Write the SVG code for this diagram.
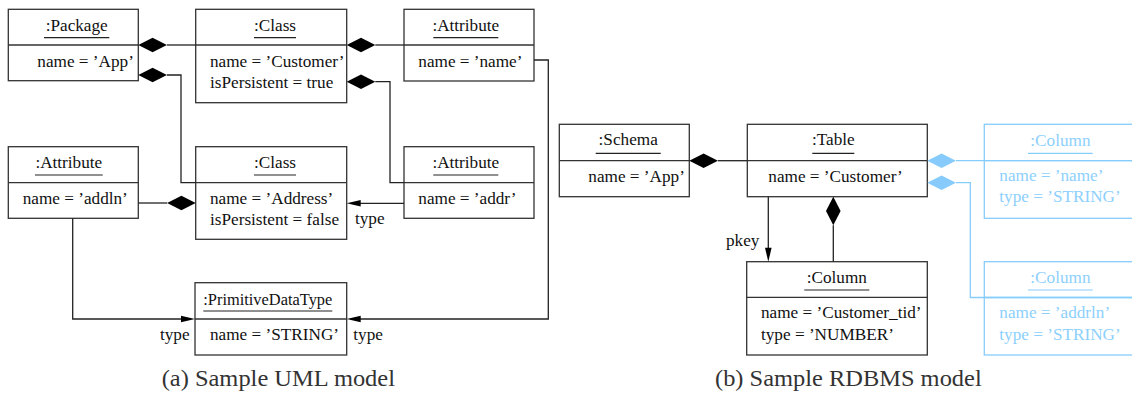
<svg xmlns="http://www.w3.org/2000/svg" xmlns:xlink="http://www.w3.org/1999/xlink" width="1132" height="394" viewBox="0 0 1132 394">
  <style>
    .box { fill: #fff; stroke: #333; stroke-width: 1.3; }
    .sep { stroke: #333; stroke-width: 1.3; }
    .ul { stroke: #222; stroke-width: 1.2; }
    .t { font-family: "Liberation Serif", "Times New Roman", serif; font-size: 17.2px; fill: #111; }
    .h { text-anchor: middle; }
    .edge { fill: none; stroke: #222; stroke-width: 1.3; }
    .cap { font-family: "Liberation Serif", serif; font-size: 23px; fill: #333; }
    .blue .box { stroke: #87cdfc; }
    .blue .sep, .blue .ul { stroke: #87cdfc; }
    .blue .t { fill: #8dd0fd; }
    .bedge { fill: none; stroke: #87cdfc; stroke-width: 1.3; }
  </style>
  <defs>
    <!-- composition diamond, starting at the origin and pointing right -->
    <path id="dia" d="M0,0 L14.3,-7.3 L28.6,0 L14.3,7.3 Z"/>
    <!-- navigable end: filled triangle with its tip at the origin, pointing left -->
    <path id="arr" d="M0,0 L14,-3.3 L14,3.3 Z"/>
  </defs>

  <rect width="1132" height="394" fill="#fff"/>

  <!-- ===== (a) UML model ===== -->
  <g id="package">
    <rect class="box" x="8.3" y="9.3" width="130" height="71.4"/>
    <line class="sep" x1="8.3" y1="45" x2="138.3" y2="45"/>
    <text class="t h" x="76.7" y="30.7">:Package</text>
    <line class="ul" x1="44" y1="37.7" x2="109.3" y2="37.7"/>
    <text class="t" x="37.3" y="66.7">name = ’App’</text>
  </g>

  <g id="class-customer">
    <rect class="box" x="195.7" y="9.3" width="151" height="93.4"/>
    <line class="sep" x1="195.7" y1="45" x2="346.7" y2="45"/>
    <text class="t h" x="275" y="30.7">:Class</text>
    <line class="ul" x1="254" y1="37.7" x2="296" y2="37.7"/>
    <text class="t" x="210" y="66.7">name = ’Customer’</text>
    <text class="t" x="210" y="88.3">isPersistent = true</text>
  </g>

  <g id="attribute-name">
    <rect class="box" x="404" y="9.3" width="130" height="71.7"/>
    <line class="sep" x1="404" y1="45" x2="534" y2="45"/>
    <text class="t h" x="465.8" y="30.7">:Attribute</text>
    <line class="ul" x1="433.3" y1="37.7" x2="498.3" y2="37.7"/>
    <text class="t" x="418.3" y="66.7">name = ’name’</text>
  </g>

  <g id="attribute-addln">
    <rect class="box" x="8.3" y="146.7" width="130" height="71.6"/>
    <line class="sep" x1="8.3" y1="182.7" x2="138.3" y2="182.7"/>
    <text class="t h" x="68.8" y="167.7">:Attribute</text>
    <line class="ul" x1="35" y1="175" x2="102.7" y2="175"/>
    <text class="t" x="22.7" y="203.5">name = ’addln’</text>
  </g>

  <g id="class-address">
    <rect class="box" x="195.7" y="146.7" width="151" height="92.6"/>
    <line class="sep" x1="195.7" y1="182.7" x2="346.7" y2="182.7"/>
    <text class="t h" x="275" y="167.7">:Class</text>
    <line class="ul" x1="254" y1="175" x2="296" y2="175"/>
    <text class="t" x="210" y="203.5">name = ’Address’</text>
    <text class="t" x="210" y="225">isPersistent = false</text>
  </g>

  <g id="attribute-addr">
    <rect class="box" x="404" y="146.7" width="130" height="71.6"/>
    <line class="sep" x1="404" y1="182.7" x2="534" y2="182.7"/>
    <text class="t h" x="465.8" y="167.7">:Attribute</text>
    <line class="ul" x1="433.3" y1="175" x2="498.3" y2="175"/>
    <text class="t" x="418.3" y="203.5">name = ’addr’</text>
  </g>

  <g id="primitive-string">
    <rect class="box" x="195" y="282.7" width="151.7" height="72.3"/>
    <line class="sep" x1="195" y1="319" x2="346.7" y2="319"/>
    <text class="t h" x="267.8" y="305" textLength="129" lengthAdjust="spacingAndGlyphs">:PrimitiveDataType</text>
    <line class="ul" x1="203.3" y1="311" x2="332.3" y2="311"/>
    <text class="t" x="210" y="340">name = ’STRING’</text>
  </g>

  <!-- ===== (b) RDBMS model ===== -->
  <g id="schema">
    <rect class="box" x="559.3" y="124.3" width="130" height="72.4"/>
    <line class="sep" x1="559.3" y1="160.7" x2="689.3" y2="160.7"/>
    <text class="t h" x="628.2" y="145">:Schema</text>
    <line class="ul" x1="595.7" y1="153.3" x2="660.7" y2="153.3"/>
    <text class="t" x="588.3" y="181.7">name = ’App’</text>
  </g>

  <g id="table">
    <rect class="box" x="747.3" y="124.3" width="180" height="72.4"/>
    <line class="sep" x1="747.3" y1="160.7" x2="927.3" y2="160.7"/>
    <text class="t h" x="833.3" y="145">:Table</text>
    <line class="ul" x1="812.3" y1="153.3" x2="854.3" y2="153.3"/>
    <text class="t" x="768.3" y="181.7">name = ’Customer’</text>
  </g>

  <g id="column-tid">
    <rect class="box" x="746.7" y="261.7" width="180.6" height="93.3"/>
    <line class="sep" x1="746.7" y1="297.3" x2="927.3" y2="297.3"/>
    <text class="t h" x="836.8" y="283.3">:Column</text>
    <line class="ul" x1="804.3" y1="290" x2="869.3" y2="290"/>
    <text class="t" x="761" y="318.3">name = ’Customer_tid’</text>
    <text class="t" x="761" y="340">type = ’NUMBER’</text>
  </g>

  <g id="column-name" class="blue">
    <rect class="box" x="984.3" y="124.3" width="170" height="94"/>
    <line class="sep" x1="984.3" y1="160.7" x2="1132" y2="160.7"/>
    <text class="t h" x="1060.4" y="145.7">:Column</text>
    <line class="ul" x1="1028" y1="153.3" x2="1092.7" y2="153.3"/>
    <text class="t" x="999.3" y="180.7">name = ’name’</text>
    <text class="t" x="999.3" y="202.3">type = ’STRING’</text>
  </g>

  <g id="column-addrln" class="blue">
    <rect class="box" x="984.3" y="261.7" width="170" height="93.3"/>
    <line class="sep" x1="984.3" y1="297.5" x2="1132" y2="297.5"/>
    <text class="t h" x="1060.4" y="282.7">:Column</text>
    <line class="ul" x1="1028" y1="290" x2="1092.7" y2="290"/>
    <text class="t" x="999.3" y="318.3">name = ’addrln’</text>
    <text class="t" x="999.3" y="340">type = ’STRING’</text>
  </g>

  <!-- ===== connectors ===== -->
  <g id="connectors">
    <!-- Package owns Class 'Customer' -->
    <use xlink:href="#dia" fill="#000" transform="translate(138.3,45)"/>
    <polyline class="edge" points="166.9,45 195.7,45"/>
    <!-- Package owns Class 'Address' -->
    <use xlink:href="#dia" fill="#000" transform="translate(138.3,75)"/>
    <polyline class="edge" points="166.9,75 181,75 181,182.7 195.7,182.7"/>
    <!-- Class 'Customer' owns its attributes -->
    <use xlink:href="#dia" fill="#000" transform="translate(346.7,45)"/>
    <polyline class="edge" points="375.3,45 404,45"/>
    <use xlink:href="#dia" fill="#000" transform="translate(346.7,81.7)"/>
    <polyline class="edge" points="375.3,81.7 390,81.7 390,182.7 404,182.7"/>
    <!-- Class 'Address' owns attribute 'addln' -->
    <polyline class="edge" points="138.3,203 167.1,203"/>
    <use xlink:href="#dia" fill="#000" transform="translate(167.1,203)"/>
    <!-- addr : type -> Address -->
    <polyline class="edge" points="404,203.3 360,203.3"/>
    <use xlink:href="#arr" fill="#000" transform="translate(346.7,203.3)"/>
    <text class="t" x="355" y="224">type</text>
    <!-- name : type -> STRING -->
    <polyline class="edge" points="534,60 548.3,60 548.3,319 360,319"/>
    <use xlink:href="#arr" fill="#000" transform="translate(346.7,319)"/>
    <text class="t" x="353.3" y="340">type</text>
    <!-- addln : type -> STRING -->
    <polyline class="edge" points="72.7,218.3 72.7,319 182,319"/>
    <use xlink:href="#arr" fill="#000" transform="translate(195,319) rotate(180)"/>
    <text class="t" x="160" y="340">type</text>

    <!-- Schema owns Table -->
    <use xlink:href="#dia" fill="#000" transform="translate(689.3,160.7)"/>
    <polyline class="edge" points="717.9,160.7 747.3,160.7"/>
    <!-- Table owns columns -->
    <use xlink:href="#dia" fill="#86cbfc" transform="translate(927.3,160.7)"/>
    <polyline class="bedge" points="955.9,160.7 1132,160.7"/>
    <use xlink:href="#dia" fill="#86cbfc" transform="translate(927.3,182.7)"/>
    <polyline class="bedge" points="955.9,182.7 970.3,182.7 970.3,297.5 1132,297.5"/>
    <use xlink:href="#dia" fill="#000" transform="translate(833.3,196.7) rotate(90)"/>
    <polyline class="edge" points="833.3,225.3 833.3,261.7"/>
    <!-- primary key -->
    <polyline class="edge" points="768.3,196.7 768.3,248"/>
    <use xlink:href="#arr" fill="#000" transform="translate(768.3,261.7) rotate(-90)"/>
    <text class="t" x="726" y="245.7">pkey</text>
  </g>

  <!-- sub-figure captions -->
  <text class="cap" x="161.7" y="386" textLength="233.3" lengthAdjust="spacingAndGlyphs">(a) Sample UML model</text>
  <text class="cap" x="715" y="386" textLength="266.7" lengthAdjust="spacingAndGlyphs">(b) Sample RDBMS model</text>
</svg>
